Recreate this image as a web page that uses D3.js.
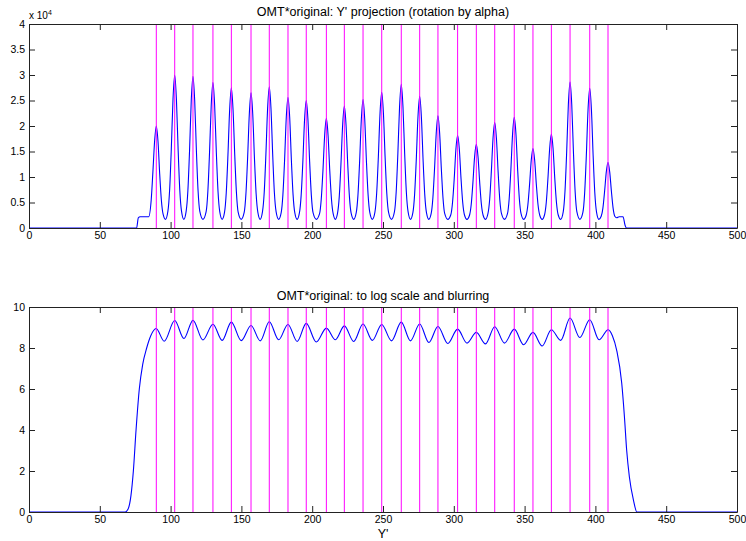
<!DOCTYPE html>
<html>
<head>
<meta charset="utf-8">
<script src="https://cdn.jsdelivr.net/npm/d3@7/dist/d3.min.js"></script>
<style>
  html, body { margin: 0; padding: 0; background: #fff; }
  svg { display: block; }
  text { font-family: "Liberation Sans", Arial, Helvetica, sans-serif; fill: #000; }
</style>
</head>
<body>
<svg id="chart" width="746" height="541"></svg>
<script>
// ---------------- DATA ----------------
const titleTop = "OMT*original: Y' projection (rotation by alpha)";
const titleBottom = "OMT*original: to log scale and blurring";
const xLabel = "Y'";

const xTicks = [0, 50, 100, 150, 200, 250, 300, 350, 400, 450, 500];
const topYTicks = [0, 0.5, 1, 1.5, 2, 2.5, 3, 3.5, 4];
const bottomYTicks = [0, 2, 4, 6, 8, 10];

// vertical marker lines (Y' positions)
const markerLines = [89.9, 102.9, 115.8, 129.9, 142.9, 156.8, 169.7, 182.9, 195.8, 210.0,
  222.7, 235.9, 249.1, 262.9, 275.9, 288.8, 302.7, 315.9, 328.9, 342.7,
  355.9, 368.9, 382.1, 396.0, 408.9];

// top curve: projection (units of 1e4), sampled points [Y', value]
const projection = [
  [0, 0], [76, 0], [77.2, 0.2], [78.5, 0.22], [84.5, 0.22],
  [86.3, 0.55], [87.5, 1.1], [88.7, 1.7], [89.9, 2.0], [91.1, 1.7], [92.3, 1.06], [93.5, 0.54], [94.7, 0.27], [96.4, 0.17],
  [98.1, 0.33], [99.3, 0.74], [100.5, 1.55], [101.7, 2.53], [102.9, 3.0], [104.1, 2.53], [105.3, 1.55], [106.5, 0.74], [107.7, 0.33], [109.35, 0.17],
  [111.0, 0.33], [112.2, 0.73], [113.4, 1.53], [114.6, 2.51], [115.8, 2.97], [117.0, 2.51], [118.2, 1.53], [119.4, 0.73], [120.6, 0.33], [122.85, 0.17],
  [125.1, 0.32], [126.3, 0.71], [127.5, 1.48], [128.7, 2.41], [129.9, 2.85], [131.1, 2.41], [132.3, 1.48], [133.5, 0.71], [134.7, 0.32], [136.4, 0.17],
  [138.1, 0.31], [139.3, 0.69], [140.5, 1.43], [141.7, 2.32], [142.9, 2.75], [144.1, 2.32], [145.3, 1.43], [146.5, 0.69], [147.7, 0.31], [149.85, 0.17],
  [152.0, 0.31], [153.2, 0.67], [154.4, 1.38], [155.6, 2.24], [156.8, 2.65], [158.0, 2.24], [159.2, 1.38], [160.4, 0.67], [161.6, 0.31], [163.25, 0.17],
  [164.9, 0.32], [166.1, 0.69], [167.3, 1.44], [168.5, 2.34], [169.7, 2.77], [170.9, 2.34], [172.1, 1.44], [173.3, 0.69], [174.5, 0.32], [176.3, 0.17],
  [178.1, 0.30], [179.3, 0.65], [180.5, 1.33], [181.7, 2.17], [182.9, 2.56], [184.1, 2.17], [185.3, 1.33], [186.5, 0.65], [187.7, 0.30], [189.35, 0.17],
  [191.0, 0.30], [192.2, 0.64], [193.4, 1.30], [194.6, 2.12], [195.8, 2.5], [197.0, 2.12], [198.2, 1.30], [199.4, 0.64], [200.6, 0.30], [202.9, 0.17],
  [205.2, 0.28], [206.4, 0.57], [207.6, 1.13], [208.8, 1.82], [210.0, 2.15], [211.2, 1.82], [212.4, 1.13], [213.6, 0.57], [214.8, 0.28], [216.35, 0.17],
  [217.9, 0.29], [219.1, 0.61], [220.3, 1.25], [221.5, 2.02], [222.7, 2.39], [223.9, 2.02], [225.1, 1.25], [226.3, 0.61], [227.5, 0.29], [229.3, 0.17],
  [231.1, 0.30], [232.3, 0.64], [233.5, 1.31], [234.7, 2.13], [235.9, 2.52], [237.1, 2.13], [238.3, 1.31], [239.5, 0.64], [240.7, 0.30], [242.5, 0.17],
  [244.3, 0.31], [245.5, 0.67], [246.7, 1.38], [247.9, 2.25], [249.1, 2.66], [250.3, 2.25], [251.5, 1.38], [252.7, 0.67], [253.9, 0.31], [256.0, 0.17],
  [258.1, 0.32], [259.3, 0.70], [260.5, 1.46], [261.7, 2.38], [262.9, 2.82], [264.1, 2.38], [265.3, 1.46], [266.5, 0.70], [267.7, 0.32], [269.4, 0.17],
  [271.1, 0.30], [272.3, 0.65], [273.5, 1.34], [274.7, 2.18], [275.9, 2.58], [277.1, 2.18], [278.3, 1.34], [279.5, 0.65], [280.7, 0.30], [282.35, 0.17],
  [284.0, 0.28], [285.2, 0.58], [286.4, 1.16], [287.6, 1.86], [288.8, 2.2], [290.0, 1.86], [291.2, 1.16], [292.4, 0.58], [293.6, 0.28], [295.75, 0.17],
  [297.9, 0.26], [299.1, 0.50], [300.3, 0.97], [301.5, 1.55], [302.7, 1.82], [303.9, 1.55], [305.1, 0.97], [306.3, 0.50], [307.5, 0.26], [309.3, 0.17],
  [311.1, 0.25], [312.3, 0.46], [313.5, 0.89], [314.7, 1.40], [315.9, 1.64], [317.1, 1.40], [318.3, 0.89], [319.5, 0.46], [320.7, 0.25], [322.4, 0.17],
  [324.1, 0.28], [325.3, 0.55], [326.5, 1.10], [327.7, 1.76], [328.9, 2.07], [330.1, 1.76], [331.3, 1.10], [332.5, 0.55], [333.7, 0.28], [335.8, 0.17],
  [337.9, 0.28], [339.1, 0.57], [340.3, 1.14], [341.5, 1.84], [342.7, 2.17], [343.9, 1.84], [345.1, 1.14], [346.3, 0.57], [347.5, 0.28], [349.3, 0.17],
  [351.1, 0.25], [352.3, 0.45], [353.5, 0.85], [354.7, 1.33], [355.9, 1.56], [357.1, 1.33], [358.3, 0.85], [359.5, 0.45], [360.7, 0.25], [362.4, 0.17],
  [364.1, 0.26], [365.3, 0.50], [366.5, 0.98], [367.7, 1.56], [368.9, 1.84], [370.1, 1.56], [371.3, 0.98], [372.5, 0.50], [373.7, 0.26], [375.5, 0.17],
  [377.3, 0.32], [378.5, 0.71], [379.7, 1.48], [380.9, 2.42], [382.1, 2.86], [383.3, 2.42], [384.5, 1.48], [385.7, 0.71], [386.9, 0.32], [389.05, 0.17],
  [391.2, 0.31], [392.4, 0.68], [393.6, 1.42], [394.8, 2.32], [396.0, 2.74], [397.2, 2.32], [398.4, 1.42], [399.6, 0.68], [400.8, 0.31], [402.45, 0.17],
  [404.1, 0.23], [405.3, 0.39], [406.5, 0.72], [407.7, 1.10], [408.9, 1.29], [410.1, 1.10], [411.3, 0.72], [412.5, 0.39], [413.7, 0.23], [415.0, 0.2],
  [416.8, 0.22], [419.5, 0.22], [421, 0.05], [422, 0], [500, 0]
];

// bottom curve: log scale + blurring, sampled points [Y', value]
const logBlur = [
  [0, 0], [67.8, 0], [70, 0.15], [72, 0.8], [73.7, 2.0], [75.6, 4.0], [77.9, 6.0],
  [80.3, 7.2], [83.1, 8.0], [86, 8.6], [89.8, 8.95],
  [95.5, 8.33], [102.9, 9.34], [109.4, 8.46], [115.8, 9.35], [122.8, 8.39],
  [129.9, 9.16], [136.4, 8.37], [142.9, 9.26], [149.9, 8.36], [156.8, 9.1],
  [163.3, 8.35], [169.7, 9.28], [176.3, 8.4], [182.9, 9.15], [189.4, 8.32],
  [195.8, 9.2], [202.9, 8.29], [210, 8.97], [216.4, 8.4], [222.7, 9.08],
  [229.3, 8.32], [235.9, 9.17], [242.5, 8.37], [249.1, 9.15], [256, 8.35],
  [262.9, 9.26], [269.4, 8.35], [275.9, 9.17], [282.4, 8.27], [288.8, 9.05],
  [295.8, 8.22], [302.7, 8.92], [309.3, 8.24], [315.9, 8.76], [322.4, 8.2],
  [328.9, 9.04], [335.8, 8.24], [342.7, 8.92], [349.3, 8.16], [355.9, 8.76],
  [362.4, 8.1], [368.9, 8.89], [375.5, 8.37], [382.1, 9.46], [389, 8.51],
  [396, 9.38], [402.6, 8.4], [409, 8.89],
  [412, 8.6], [415, 7.9], [418.6, 6.28], [420.5, 4.65], [422.1, 3.0],
  [424, 1.71], [426.9, 0.57], [429.3, 0], [500, 0]
];

// ---------------- DRAWING ----------------
const svg = d3.select("#chart");
const axisColor = "#222";
const left = 29, right = 737;

const x = d3.scaleLinear().domain([0, 500]).range([left, right]);

const panels = [
  { top: 24, bottom: 228, yDomain: [0, 4], yTicks: topYTicks, data: projection, title: titleTop, titleY: 16 },
  { top: 307, bottom: 512, yDomain: [0, 10], yTicks: bottomYTicks, data: logBlur, title: titleBottom, titleY: 300 }
];

const fmt = d3.format("~g");

panels.forEach(p => {
  const y = d3.scaleLinear().domain(p.yDomain).range([p.bottom, p.top]);
  const g = svg.append("g");

  // curve
  const line = d3.line()
    .x(d => x(d[0]))
    .y(d => y(d[1]))
    .curve(d3.curveMonotoneX);
  g.append("path")
    .datum(p.data)
    .attr("d", line)
    .attr("fill", "none")
    .attr("stroke", "#0000ff")
    .attr("stroke-width", 1.1);

  // marker lines
  g.selectAll("line.marker")
    .data(markerLines)
    .enter().append("line")
    .attr("class", "marker")
    .attr("x1", d => x(d)).attr("x2", d => x(d))
    .attr("y1", p.top).attr("y2", p.bottom)
    .attr("stroke", "#ff00ff")
    .attr("stroke-width", 1);

  // axes (inward ticks, MATLAB box)
  const axB = g.append("g").attr("transform", `translate(0,${p.bottom})`)
    .call(d3.axisBottom(x).tickValues(xTicks).tickFormat(fmt).tickSizeInner(-6).tickSizeOuter(0).tickPadding(4));
  const axT = g.append("g").attr("transform", `translate(0,${p.top})`)
    .call(d3.axisTop(x).tickValues(xTicks).tickFormat("").tickSizeInner(-6).tickSizeOuter(0));
  const axL = g.append("g").attr("transform", `translate(${left},0)`)
    .call(d3.axisLeft(y).tickValues(p.yTicks).tickFormat(fmt).tickSizeInner(-6).tickSizeOuter(0).tickPadding(4));
  const axR = g.append("g").attr("transform", `translate(${right},0)`)
    .call(d3.axisRight(y).tickValues(p.yTicks).tickFormat("").tickSizeInner(-6).tickSizeOuter(0));

  [axB, axT, axL, axR].forEach(a => {
    a.selectAll("path.domain").attr("stroke", axisColor).attr("stroke-width", 1);
    a.selectAll(".tick line").attr("stroke", axisColor);
    a.selectAll(".tick text")
      .attr("fill", "#000")
      .style("font-size", "10.5px")
      .style("font-family", "'Liberation Sans', Arial, Helvetica, sans-serif");
  });

  // title
  svg.append("text")
    .attr("x", (left + right) / 2)
    .attr("y", p.titleY)
    .attr("text-anchor", "middle")
    .style("font-size", "12.5px")
    .text(p.title);
});

// exponent label
const exp = svg.append("text")
  .attr("x", left)
  .attr("y", 19)
  .style("font-size", "10px");
exp.append("tspan").text("x 10");
exp.append("tspan").attr("dy", -4).style("font-size", "7px").text("4");

// x label
svg.append("text")
  .attr("x", (left + right) / 2)
  .attr("y", 538)
  .attr("text-anchor", "middle")
  .style("font-size", "12.5px")
  .text(xLabel);
</script>
</body>
</html>
